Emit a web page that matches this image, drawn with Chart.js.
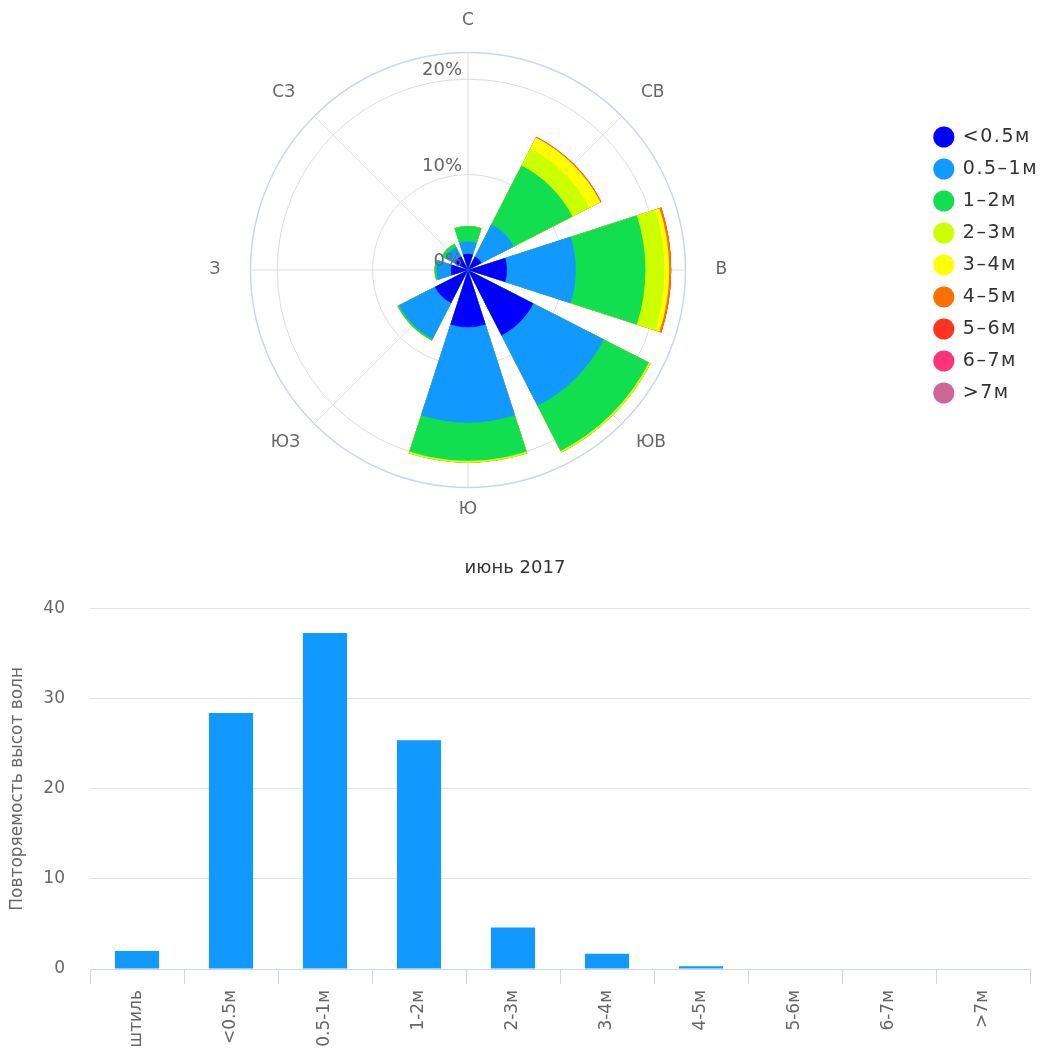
<!DOCTYPE html>
<html>
<head>
<meta charset="utf-8">
<script src="https://cdn.jsdelivr.net/npm/chart.js@4.4.1/dist/chart.umd.min.js"></script>
<style>
  body { margin: 0; background: #fff; }
  #rose { position: absolute; left: 0; top: 0; }
  #bars { position: absolute; left: 0; top: 530px; }
</style>
</head>
<body>
<canvas id="rose" width="1046" height="519"></canvas>
<canvas id="bars" width="1046" height="520"></canvas>
<script>
// wave rose: directions and height bins
const directions = ['С', 'СВ', 'В', 'ЮВ', 'Ю', 'ЮЗ', 'З', 'СЗ'];
const heightBins = ['<0.5м', '0.5–1м', '1–2м', '2–3м', '3–4м', '4–5м', '5–6м', '6–7м', '>7м'];
const binColors  = ['#0000ff', '#1199ff', '#11df50', '#ccff00', '#ffff00', '#ff7000', '#ff3322', '#ff3377', '#cc6699'];

// % of observations, same order as directions
const below05   = [1.7, 1.6, 4.1, 7.7, 6.0, 3.9, 1.8, 1.6];
const from05to1 = [1.3, 3.8, 7.2, 8.3, 10.0, 4.2, 1.5, 1.1];
const from1to2  = [1.6, 6.9, 7.3, 5.3, 4.0, 0.2, 0.2, 0.4];
const from2to3  = [0, 2.0, 2.0, 0.2, 0.2, 0, 0, 0];
const from3to4  = [0, 1.3, 0.5, 0, 0, 0, 0, 0];
const from4to5  = [0, 0.1, 0.2, 0, 0, 0, 0, 0];
const from5to6  = [0, 0, 0, 0, 0, 0, 0, 0];
const from6to7  = [0, 0, 0, 0, 0, 0, 0, 0];
const above7    = [0, 0, 0, 0, 0, 0, 0, 0];

const roseMax = 22.8;

// height histogram
const barCategories = ['штиль', '<0.5м', '0.5-1м', '1-2м', '2-3м', '3-4м', '4-5м', '5-6м', '6-7м', '>7м'];
const barValues     = [2.0, 28.4, 37.3, 25.4, 4.6, 1.7, 0.3, 0, 0, 0];

const FONT = 'DejaVu Sans';

// polarArea has no stacking, so each bin is drawn as a cumulative arc
// and smaller ones end up on top (dataset 0 is drawn last)
const binSeries = [below05, from05to1, from1to2, from2to3, from3to4, from4to5, from5to6, from6to7, above7];
let running = directions.map(() => 0);
const roseDatasets = binSeries.map((vals, i) => {
  running = running.map((v, j) => v + vals[j]);
  return {
    label: heightBins[i],
    data: running.slice(),
    backgroundColor: binColors[i],
    borderWidth: 0
  };
});

const roseGaps = {
  id: 'roseGaps',
  afterDatasetsUpdate(chart) {
    const gap = 4.6 * Math.PI / 180;
    chart.data.datasets.forEach((ds, i) => {
      chart.getDatasetMeta(i).data.forEach(arc => {
        arc.startAngle += gap;
        arc.endAngle -= gap;
      });
    });
  }
};

const roseSpokes = {
  id: 'roseSpokes',
  beforeDatasetsDraw(chart) {
    const scale = chart.scales.r;
    const ctx = chart.ctx;
    const outer = scale.getDistanceFromCenterForValue(scale.max);
    const half = Math.PI / chart.data.labels.length;
    ctx.save();
    ctx.strokeStyle = '#dddddd';
    ctx.lineWidth = 1;
    chart.data.labels.forEach((l, i) => {
      const p = scale.getPointPosition(i, outer, half);
      ctx.beginPath();
      ctx.moveTo(scale.xCenter, scale.yCenter);
      ctx.lineTo(p.x, p.y);
      ctx.stroke();
    });
    ctx.restore();
  }
};

const roseTickLabels = {
  id: 'roseTickLabels',
  afterDatasetsDraw(chart) {
    const scale = chart.scales.r;
    const ctx = chart.ctx;
    ctx.save();
    ctx.font = '18px "' + FONT + '"';
    ctx.fillStyle = '#666';
    ctx.textAlign = 'right';
    ctx.textBaseline = 'alphabetic';
    scale.ticks.filter(t => t.value % 10 === 0).forEach(t => {
      const y = scale.yCenter - scale.getDistanceFromCenterForValue(t.value);
      ctx.fillText(t.value + '%', scale.xCenter - 6, y - 4);
    });
    ctx.restore();
  }
};

// legend text in the original is spaced out a bit
const legendSpacing = {
  id: 'legendSpacing',
  beforeDraw(chart) {
    const legend = chart.legend;
    if (!legend || legend._spaced) return;
    const draw = legend.draw.bind(legend);
    legend.draw = (area) => {
      chart.ctx.save();
      chart.ctx.letterSpacing = '1.5px';
      draw(area);
      chart.ctx.restore();
    };
    legend._spaced = true;
  }
};

// padding per label: top, upper diagonals, sides, lower diagonals, bottom
const labelPadding = [28, 27, 30, 20, 18, 20, 30, 27];

const rose = new Chart(document.getElementById('rose'), {
  type: 'polarArea',
  data: { labels: directions, datasets: roseDatasets },
  options: {
    responsive: false,
    animation: false,
    layout: { padding: { left: 15, right: 7, top: 11 } },
    scales: {
      r: {
        startAngle: -22.5,
        min: 0,
        max: roseMax,
        ticks: { display: false, stepSize: 10 },
        grid: {
          circular: true,
          color: c => (c.tick && c.tick.value > 20) ? '#ccd6eb' : '#dddddd',
          lineWidth: c => (c.tick && c.tick.value > 20) ? 1.5 : 1
        },
        angleLines: { display: false },
        pointLabels: {
          display: true,
          centerPointLabels: true,
          padding: c => labelPadding[c.index],
          color: '#666',
          font: { family: FONT, size: 17, lineHeight: 0.5 }
        }
      }
    },
    plugins: {
      tooltip: { enabled: false },
      legend: {
        position: 'right',
        labels: {
          usePointStyle: true,
          boxHeight: 15,
          padding: 13,
          color: '#333',
          font: { family: FONT, size: 19 },
          generateLabels: chart => chart.data.datasets.map((ds, i) => ({
            text: ds.label,
            fillStyle: ds.backgroundColor,
            strokeStyle: ds.backgroundColor,
            lineWidth: 0,
            pointStyle: 'circle',
            fontColor: '#333',
            hidden: false,
            datasetIndex: i
          }))
        }
      }
    }
  },
  plugins: [roseGaps, roseSpokes, roseTickLabels, legendSpacing]
});

const bars = new Chart(document.getElementById('bars'), {
  type: 'bar',
  data: {
    labels: barCategories,
    datasets: [{
      data: barValues,
      backgroundColor: '#1199ff',
      barPercentage: 1,
      categoryPercentage: 0.47
    }]
  },
  options: {
    responsive: false,
    animation: false,
    layout: { padding: { right: 16 } },
    plugins: {
      legend: { display: false },
      tooltip: { enabled: false },
      title: {
        display: true,
        text: 'июнь 2017',
        color: '#333',
        font: { family: FONT, size: 18, weight: 'normal' },
        padding: { top: 28, bottom: 29 }
      }
    },
    scales: {
      x: {
        grid: { offset: true, drawOnChartArea: false, color: '#ccd6eb', tickLength: 15 },
        border: { color: '#ccd6eb' },
        ticks: {
          autoSkip: false,
          minRotation: 90,
          maxRotation: 90,
          padding: 6,
          color: '#666',
          font: { family: FONT, size: 17 }
        },
        afterFit: s => { s.height = 81; }
      },
      y: {
        min: 0,
        max: 40,
        ticks: { stepSize: 10, padding: 25, color: '#666', font: { family: FONT, size: 17 } },
        grid: { color: '#e3e3e3', drawTicks: false },
        border: { display: false },
        title: {
          display: true,
          text: 'Повторяемость высот волн',
          color: '#666',
          font: { family: FONT, size: 17 },
          padding: { top: 7, bottom: 0 }
        },
        afterFit: s => { s.width = 90; }
      }
    }
  }
});
</script>
</body>
</html>
